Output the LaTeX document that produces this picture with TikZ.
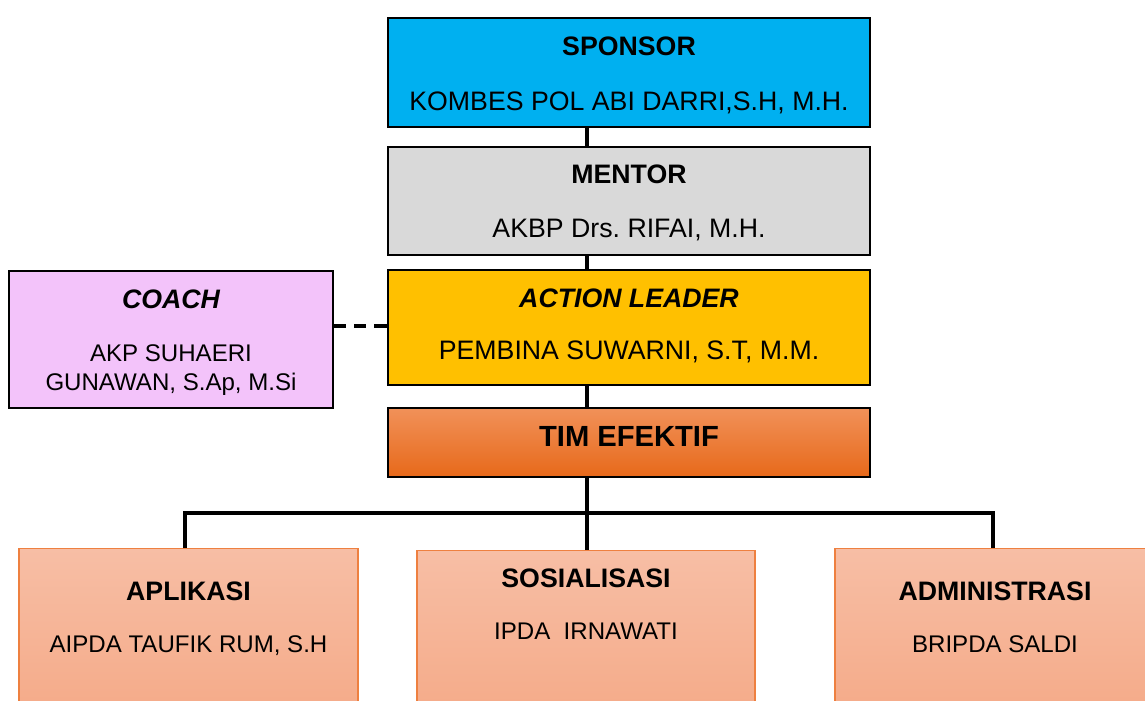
\documentclass[tikz,border=0pt]{standalone}
\usepackage{fontspec}
\setmainfont{Liberation Sans}
\usetikzlibrary{positioning}
\frenchspacing

\definecolor{sponsorblue}{HTML}{00B0F0}
\definecolor{mentorgray}{HTML}{D9D9D9}
\definecolor{leaderyellow}{HTML}{FFC000}
\definecolor{coachpink}{HTML}{F3C3FA}
\definecolor{timtop}{HTML}{F19159}
\definecolor{timmid}{HTML}{F47F2D}
\definecolor{timbottom}{HTML}{E7691A}
\definecolor{subtop}{HTML}{F7BEA5}
\definecolor{subbottom}{HTML}{F4A47F}
\definecolor{subline}{HTML}{EE8040}

\begin{document}
\begin{tikzpicture}[x=0.02cm, y=-0.02cm,
  box/.style={draw, line width=1pt, inner sep=0pt},
  subbox/.style={draw=subline, line width=0.8pt, inner sep=0pt,
    top color=subtop, bottom color=subbottom, anchor=north,
    minimum height=4.4cm},
  titletext/.style={anchor=base, font=\fontsize{15.2}{18}\selectfont\bfseries},
  italictext/.style={anchor=base, font=\fontsize{15.2}{18}\selectfont\bfseries\itshape},
  nametext/.style={anchor=base, font=\fontsize{15.2}{18}\selectfont},
  smallname/.style={anchor=base, font=\fontsize{13.7}{16}\selectfont},
  link/.style={line width=2.3pt}]
  \useasboundingbox (0,0) rectangle (1145,700);
  \clip (0,0) rectangle (1145,700);

  \coordinate (Spine) at (587,0);

  % top chain
  \node [box, fill=sponsorblue, minimum width=9.64cm, minimum height=2.18cm] (Sponsor_box) at (629,72.5) {};
  \node [titletext] (Sponsor_title) at (629,55) {SPONSOR};
  \node [nametext] (Sponsor_name) at (629,110) {KOMBES POL ABI DARRI,S.H, M.H.};

  \node [box, fill=mentorgray, minimum width=9.64cm, minimum height=2.16cm] (Mentor_box) at (629,201) {};
  \node [titletext] (Mentor_title) at (629,183) {MENTOR};
  \node [nametext] (Mentor_name) at (629,237) {AKBP Drs. RIFAI, M.H.};

  \node [box, fill=leaderyellow, minimum width=9.64cm, minimum height=2.3cm] (Leader_box) at (629,327.5) {};
  \node [italictext] (Leader_title) at (629,307) {ACTION LEADER};
  \node [nametext] (Leader_name) at (629,359) {PEMBINA SUWARNI, S.T, M.M.};

  \node [box, fill=coachpink, minimum width=6.48cm, minimum height=2.74cm] (Coach_box) at (171,339.5) {};
  \node [italictext] (Coach_title) at (171,308) {COACH};
  \node [smallname] (Coach_name1) at (171,361) {AKP SUHAERI};
  \node [smallname] (Coach_name2) at (171,390) {GUNAWAN, S.Ap, M.Si};

  \node [box, shading=axis, top color=timtop, middle color=timmid, bottom color=timbottom,
    minimum width=9.64cm, minimum height=1.38cm] (Tim_box) at (629,442.5) {};
  \node [titletext, font=\fontsize{16.6}{20}\selectfont\bfseries] (Tim_title) at (629,446) {TIM EFEKTIF};

  % sub teams
  \node [subbox, minimum width=6.78cm] (Aplikasi_box) at (188.5,548) {};
  \node [titletext] (Aplikasi_title) at (188.5,600) {APLIKASI};
  \node [smallname] (Aplikasi_name) at (188.5,652) {AIPDA TAUFIK RUM, S.H};

  \node [subbox, minimum width=6.76cm] (Sosial_box) at (586,550) {};
  \node [titletext] (Sosial_title) at (586,587) {SOSIALISASI};
  \node [smallname] (Sosial_name) at (586,639) {IPDA~~IRNAWATI};

  \node [subbox, minimum width=6.4cm] (Admin_box) at (995,548) {};
  \node [titletext] (Admin_title) at (995,600) {ADMINISTRASI};
  \node [smallname] (Admin_name) at (995,652) {BRIPDA SALDI};

  % connectors
  \draw [link] (Sponsor_box.south -| Spine) -- (Mentor_box.north -| Spine);
  \draw [link] (Mentor_box.south -| Spine) -- (Leader_box.north -| Spine);
  \draw [link] (Leader_box.south -| Spine) -- (Tim_box.north -| Spine);
  \draw [link, dash pattern=on 7pt off 4.5pt] (Coach_box.east |- 0,326) -- (Leader_box.west |- 0,326);

  \coordinate (Branch) at (587,513);
  \draw [link] (Tim_box.south -| Spine) -- (Sosial_box.north -| Spine);
  \draw [link] (185,548) |- (Branch) -| (993,548);
\end{tikzpicture}
\end{document}
